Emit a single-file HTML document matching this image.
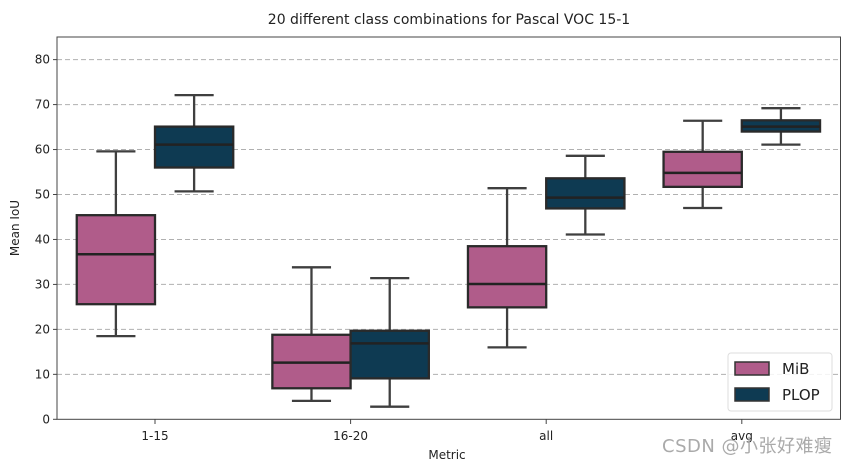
<!DOCTYPE html>
<html><head><meta charset="utf-8"><style>
body{margin:0;background:#fff;}
svg text{font-family:"DejaVu Sans","Liberation Sans","Noto Sans CJK SC",sans-serif;}
</style></head><body>
<svg id="chart" width="849" height="464" xmlns="http://www.w3.org/2000/svg">
<text x="449" y="24" text-anchor="middle" font-size="14" fill="#222">20 different class combinations for Pascal VOC 15-1</text>
<g id="grid"></g>
<g id="yticks"></g>
<g id="boxes"></g>
<g id="xticks"></g>
<rect x="57" y="37" width="783.5" height="382.3" fill="none" stroke="#444" stroke-width="1"/>
<text transform="translate(19,228) rotate(-90)" text-anchor="middle" font-size="12" fill="#222">Mean IoU</text>
<text x="447" y="459" text-anchor="middle" font-size="12" fill="#222">Metric</text>
<g>
<rect x="728" y="353" width="104" height="58" rx="3" fill="#fff" fill-opacity="0.85" stroke="#ddd"/>
<rect x="735" y="362" width="34" height="13" fill="#b05c8a" stroke="#333" stroke-width="1.5"/>
<text x="782" y="374" font-size="15" fill="#222">MiB</text>
<rect x="735" y="388" width="34" height="13" fill="#0e3a52" stroke="#333" stroke-width="1.5"/>
<text x="782" y="400" font-size="15" fill="#222">PLOP</text>
</g>
<text x="662" y="452" font-size="18" fill="#aaa" textLength="170" font-family="Liberation Sans, Noto Sans CJK SC, sans-serif">CSDN @小张好难瘦</text>
</svg>
<script>
const categories=["1-15","16-20","all","avg"];
const seriesNames=["MiB","PLOP"];
const mibLow=[18.5,4.1,16.0,47.0];
const mibQ1=[25.6,6.9,24.9,51.7];
const mibMed=[36.7,12.6,30.1,54.8];
const mibQ3=[45.4,18.8,38.5,59.5];
const mibHigh=[59.6,33.8,51.4,66.4];
const plopLow=[50.7,2.8,41.1,61.1];
const plopQ1=[56.0,9.1,46.9,64.0];
const plopMed=[61.1,16.9,49.3,65.1];
const plopQ3=[65.1,19.7,53.6,66.5];
const plopHigh=[72.1,31.4,58.6,69.2];
const yTicks=[0,10,20,30,40,50,60,70,80];
const colors=["#b05c8a","#0e3a52"];
const NS="http://www.w3.org/2000/svg";
const y=v=>419.3-v*4.496;
const step=195.6, x0=155;
const xc=i=>x0+i*step;
const bw=step*0.4;
function mk(t,a,p){const e=document.createElementNS(NS,t);for(const k in a)e.setAttribute(k,a[k]);p.appendChild(e);return e;}
const grid=document.getElementById('grid'),yt=document.getElementById('yticks'),bx=document.getElementById('boxes'),xt=document.getElementById('xticks');
yTicks.forEach(v=>{
 if(v>0){const g=mk('line',{x1:57,x2:840.5,y1:y(v),y2:y(v),stroke:'#b0b0b0','stroke-dasharray':'5,3','stroke-width':1},grid);
 
 }
 const l=mk('line',{x1:53,x2:57,y1:y(v),y2:y(v),stroke:'#444'},yt);
 
 
 const t=mk('text',{x:50,y:y(v)+4,'text-anchor':'end','font-size':12,fill:'#222'},yt);t.textContent=v;
 
 
});
categories.forEach((c,i)=>{
 const l=mk('line',{x1:xc(i),x2:xc(i),y1:419.3,y2:424,stroke:'#444'},xt);
 
 
 const t=mk('text',{x:xc(i),y:440,'text-anchor':'middle','font-size':12,fill:'#222'},xt);t.textContent=c;
 
 
 const sets=[[mibLow,mibQ1,mibMed,mibQ3,mibHigh],[plopLow,plopQ1,plopMed,plopQ3,plopHigh]];
 sets.forEach((s,j)=>{
  const cx=xc(i)+(j===0?-bw/2:bw/2);
  const g=mk('g',{},bx);
  
  
  const st={stroke:'#3f3f3f','stroke-width':2.3};
  mk('line',Object.assign({x1:cx,x2:cx,y1:y(s[4][i]),y2:y(s[3][i])},st),g);
  mk('line',Object.assign({x1:cx,x2:cx,y1:y(s[1][i]),y2:y(s[0][i])},st),g);
  mk('line',Object.assign({x1:cx-bw/4,x2:cx+bw/4,y1:y(s[4][i]),y2:y(s[4][i])},st),g);
  mk('line',Object.assign({x1:cx-bw/4,x2:cx+bw/4,y1:y(s[0][i]),y2:y(s[0][i])},st),g);
  mk('rect',{x:cx-bw/2,y:y(s[3][i]),width:bw,height:y(s[1][i])-y(s[3][i]),fill:colors[j],stroke:'#2a2a2a','stroke-width':2.3},g);
  mk('line',{x1:cx-bw/2,x2:cx+bw/2,y1:y(s[2][i]),y2:y(s[2][i]),stroke:'#222','stroke-width':2.5},g);
 });
});
</script>
</body></html>
